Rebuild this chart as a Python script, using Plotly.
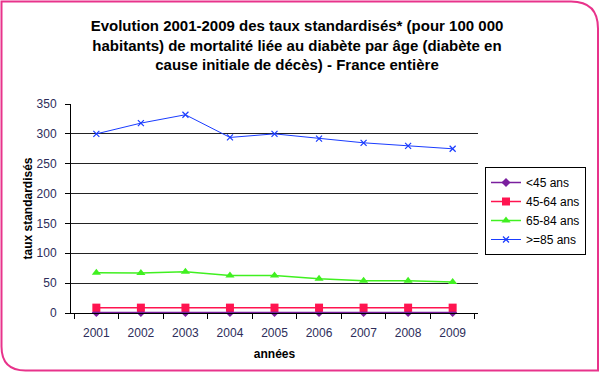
import plotly.graph_objects as go

years = ["2001", "2002", "2003", "2004", "2005", "2006", "2007", "2008", "2009"]
lt45 = [1, 1, 1, 1, 1, 1, 1, 1, 1]
a45_64 = [9, 9, 9, 9, 9, 9, 9, 9, 9]
a65_84 = [67.5, 67, 69, 63, 63, 57.5, 54, 54, 52]
ge85 = [300, 318, 332, 294, 300, 292, 285, 280, 275]

W, H = 600, 374
L, R, T, B = 71, 122, 104, 61
PW, PH = W - L - R, H - T - B

def px(x):
    return (x - L) / PW

def py(y):
    return (H - B - y) / PH

fig = go.Figure()
fig.add_trace(go.Scatter(x=years, y=lt45, name="<45 ans", mode="lines+markers",
                         line=dict(color="#7A1F9E", width=1.5), cliponaxis=False,
                         marker=dict(symbol="diamond", size=7, color="#7A1F9E")))
fig.add_trace(go.Scatter(x=years, y=a45_64, name="45-64 ans", mode="lines+markers",
                         line=dict(color="#FF1450", width=1.5), cliponaxis=False,
                         marker=dict(symbol="square", size=8, color="#FF1450")))
fig.add_trace(go.Scatter(x=years, y=a65_84, name="65-84 ans", mode="lines+markers",
                         line=dict(color="#40F020", width=1.5), cliponaxis=False,
                         marker=dict(symbol="triangle-up", size=8, color="#40F020")))
fig.add_trace(go.Scatter(x=years, y=ge85, name=">=85 ans", mode="lines+markers",
                         line=dict(color="#1A3CFF", width=1), cliponaxis=False,
                         marker=dict(symbol="x-thin-open", size=6,
                                     line=dict(color="#1A3CFF", width=1.2))))

R1, R2 = 27, 24
x0, x1, y0, y1 = 1.5, 598, 1.5, 370.5
frame = (f"M {px(x0)},{py(y0)} L {px(x1 - R1)},{py(y0)} "
         f"Q {px(x1)},{py(y0)} {px(x1)},{py(y0 + R1)} "
         f"L {px(x1)},{py(y1)} L {px(x0 + R2)},{py(y1)} "
         f"Q {px(x0)},{py(y1)} {px(x0)},{py(y1 - R2)} Z")
fig.add_shape(type="path", path=frame, xref="paper", yref="paper",
              line=dict(color="#E8338B", width=2), layer="below")

tickcol = "#2d2d5a"
fig.update_layout(
    width=W, height=H,
    margin=dict(l=L, r=R, t=T, b=B),
    paper_bgcolor="white", plot_bgcolor="white",
    font=dict(family="Liberation Sans, Arial, sans-serif", size=12, color="black"),
    title=dict(
        text="<b>Evolution 2001-2009 des taux standardisés* (pour 100 000<br>"
             "habitants) de mortalité liée au diabète par âge (diabète en<br>"
             "cause initiale de décès) - France entière</b>",
        x=0.495, xanchor="center", xref="container",
        y=1 - 31 / H, yanchor="top", yref="container",
        font=dict(size=15, color="black")),
    xaxis=dict(
        title=dict(text="<b>années</b>", font=dict(size=12), standoff=10),
        showline=True, linecolor="black", linewidth=1,
        ticks="outside", tickson="boundaries", ticklen=5, tickcolor="black",
        tickfont=dict(size=12, color=tickcol), ticklabelstandoff=9,
        showgrid=False, zeroline=False),
    yaxis=dict(
        title=dict(text="<b>taux standardisés</b>", font=dict(size=12), standoff=1),
        range=[0, 350], dtick=50,
        showline=True, linecolor="black", linewidth=1,
        ticks="outside", ticklen=5, tickcolor="black",
        tickfont=dict(size=12, color=tickcol), ticklabelstandoff=6,
        showgrid=True, gridcolor="#222222", gridwidth=1, zeroline=False),
    legend=dict(
        x=px(485), y=py(167), xanchor="left", yanchor="top",
        bordercolor="black", borderwidth=1, bgcolor="white",
        font=dict(size=12, color="black"),
        tracegroupgap=0, itemwidth=30),
    showlegend=True,
)

fig.write_html("out.html", config={"displayModeBar": False},
               post_script="document.body.style.margin='0px';document.body.style.padding='0px';")
